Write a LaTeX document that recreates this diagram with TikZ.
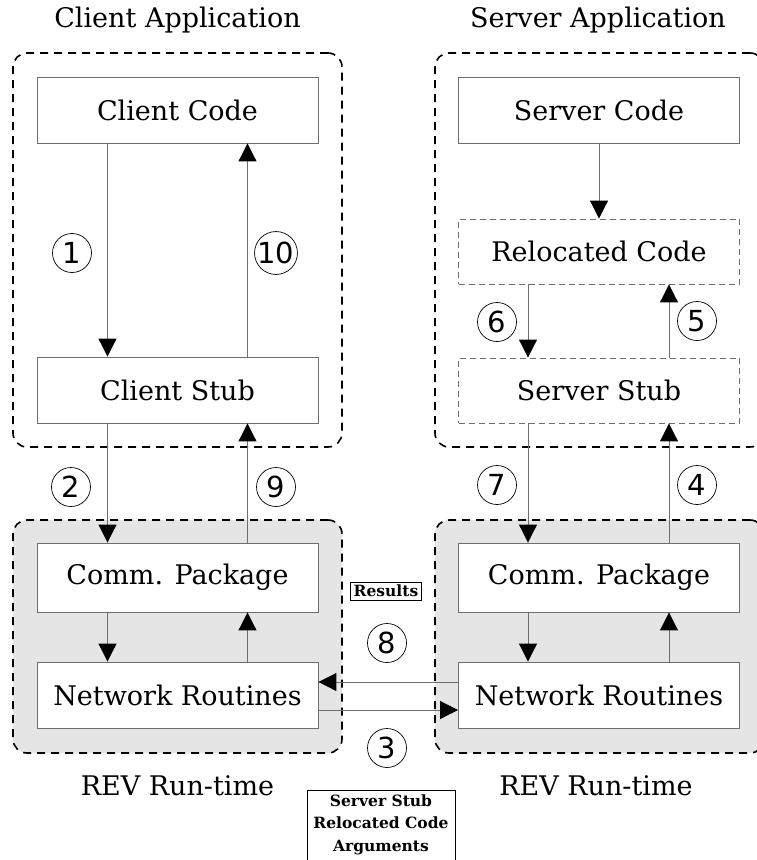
\documentclass[tikz,border=0pt]{standalone}
\usepackage{fontspec}
\setmainfont{DejaVu Serif}
\newfontfamily\numfont{DejaVu Sans}
\usetikzlibrary{arrows.meta}
\definecolor{edge}{HTML}{6E6E6E}
\definecolor{runbg}{HTML}{E5E5E5}
\tikzset{
  x=1pt, y=-1pt,
  lbl/.style={font=\fontsize{27}{31}\selectfont},
  box/.style={draw=edge, line width=0.9pt, fill=white, minimum width=281pt,
    minimum height=66pt, inner sep=0pt, lbl},
  dbox/.style={box, dash pattern=on 6pt off 4pt},
  group/.style={draw=black, line width=1.6pt, dash pattern=on 8pt off 6pt,
    rounded corners=14pt, minimum width=329pt, inner sep=0pt},
  runtime/.style={group, fill=runbg},
  num/.style={draw=black, line width=0.7pt, circle, minimum size=39pt,
    inner sep=0pt, font=\numfont\fontsize{29}{33}\selectfont},
  arr/.style={draw=edge, line width=1pt,
    -{Triangle[width=18pt,length=18pt,color=black,fill=black]}},
  tag/.style={draw=black, line width=0.7pt, fill=white, inner sep=3pt,
    font=\bfseries\fontsize{15.5}{22.5}\selectfont, align=center},
}
\begin{document}
\begin{tikzpicture}
\useasboundingbox (0,0) rectangle (757,860);
\begin{scope}
\clip (0,0) rectangle (757,860);

% application groups and run-time groups
\node[group, minimum height=394pt] (capp) at (177.5,250) {};
\node[group, minimum height=394pt] (sapp) at (599.5,250) {};
\node[runtime, minimum height=233pt] (crt) at (177.5,636.5) {};
\node[runtime, minimum height=233pt] (srt) at (599.5,636.5) {};

\node[lbl] (capptitle) at (177.5,20) {Client Application};
\node[lbl] (sapptitle) at (598,20) {Server Application};
\node[lbl] (crttitle) at (177.5,786) {REV Run-time};
\node[lbl] (srttitle) at (596,786) {REV Run-time};

% client side
\node[box] (ccode) at (177.5,110) {Client Code};
\node[box] (cstub) at (177.5,390) {Client Stub};
\node[box, minimum height=69pt] (ccomm) at (177.5,577.5) {Comm. Package};
\node[box] (cnet) at (177.5,695) {Network Routines};

% server side
\node[box] (scode) at (599,110) {Server Code};
\node[dbox, minimum height=65pt] (sreloc) at (599,251.5) {Relocated Code};
\node[dbox, minimum height=65pt] (sstub) at (599,390.5) {Server Stub};
\node[box, minimum height=69pt] (scomm) at (599,577.5) {Comm. Package};
\node[box] (snet) at (599,695) {Network Routines};

% client connectors
\draw[arr] ([xshift=-70pt]ccode.south) -- ([xshift=-70pt]cstub.north);
\draw[arr] ([xshift=70pt]cstub.north) -- ([xshift=70pt]ccode.south);
\draw[arr] ([xshift=-70pt]cstub.south) -- ([xshift=-70pt]ccomm.north);
\draw[arr] ([xshift=70pt]ccomm.north) -- ([xshift=70pt]cstub.south);
\draw[arr] ([xshift=-70pt]ccomm.south) -- ([xshift=-70pt]cnet.north);
\draw[arr] ([xshift=70pt]cnet.north) -- ([xshift=70pt]ccomm.south);

% server connectors
\draw[arr] (scode.south) -- (sreloc.north);
\draw[arr] ([xshift=-71pt]sreloc.south) -- ([xshift=-71pt]sstub.north);
\draw[arr] ([xshift=70pt]sstub.north) -- ([xshift=70pt]sreloc.south);
\draw[arr] ([xshift=-71pt]sstub.south) -- ([xshift=-71pt]scomm.north);
\draw[arr] ([xshift=70pt]scomm.north) -- ([xshift=70pt]sstub.south);
\draw[arr] ([xshift=-71pt]scomm.south) -- ([xshift=-71pt]snet.north);
\draw[arr] ([xshift=70pt]snet.north) -- ([xshift=70pt]scomm.south);

% network traffic
\draw[arr] ([yshift=13pt]snet.west) -- ([yshift=13pt]cnet.east);
\draw[arr] ([yshift=-15pt]cnet.east) -- ([yshift=-15pt]snet.west);

% step numbers
\node[num] (n1) at (72,253) {1};
\node[num] (n10) at (276,253) {10};
\node[num] (n6) at (497,322) {6};
\node[num] (n5) at (697,321) {5};
\node[num] (n2) at (71,487) {2};
\node[num] (n9) at (276,487) {9};
\node[num] (n7) at (497,485) {7};
\node[num] (n4) at (697,485) {4};
\node[num] (n8) at (387,643) {8};
\node[num] (n3) at (387,748) {3};

% message contents (the request box runs past the lower edge)
\node[tag] (results) at (386,591) {Results};
\node[tag, anchor=north, minimum width=148pt, inner ysep=4pt] (request) at (381,790)
  {Server Stub\\Relocated Code\\Arguments\\\mbox{}};
\end{scope}
\end{tikzpicture}
\end{document}
